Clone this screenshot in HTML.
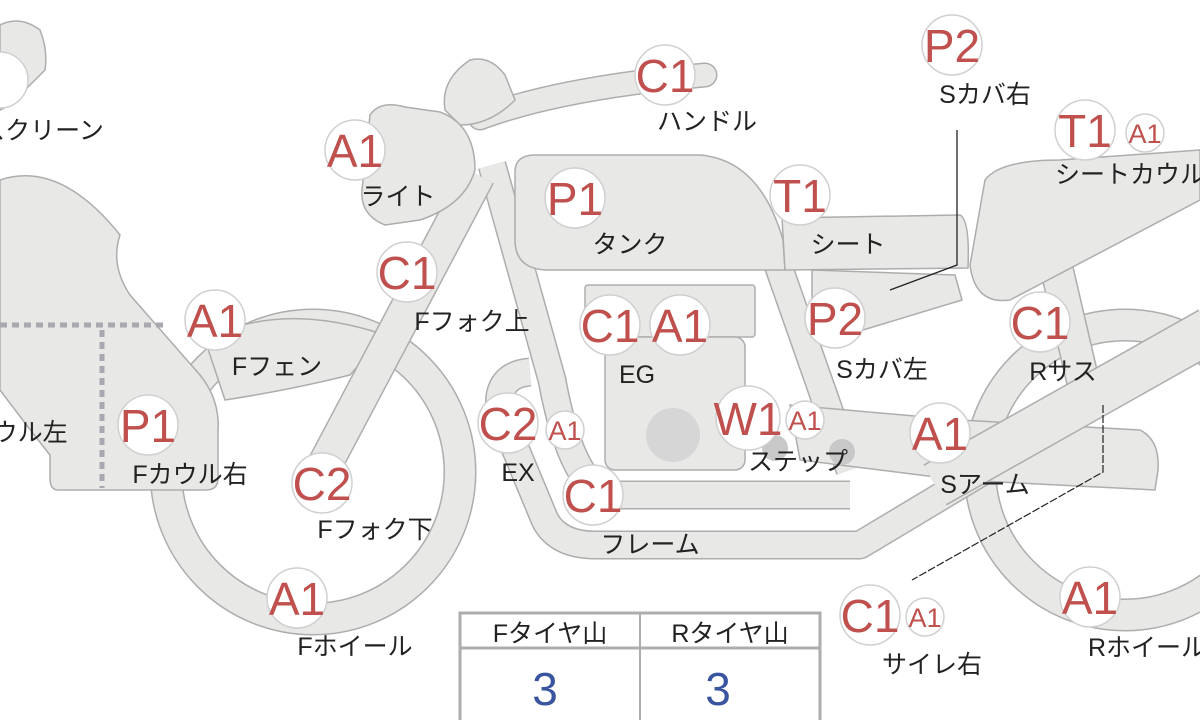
<!DOCTYPE html>
<html><head><meta charset="utf-8"><style>
html,body{margin:0;padding:0;background:#fff;width:1200px;height:720px;overflow:hidden}
svg{display:block}
.s{fill:#e8e8e6;stroke:#adadad;stroke-width:1.5}
.bo{fill:none;stroke:#adadad}
.bi{fill:none;stroke:#e8e8e6}
.b{fill:#fff;stroke:#d0d0d0;stroke-width:1.5}
.r{fill:#c0504d;font-family:"Liberation Sans",sans-serif;text-anchor:middle}
.t{fill:#222;font-family:"Liberation Sans","Noto Sans CJK JP",sans-serif;font-size:25px;text-anchor:middle}
</style></head><body>
<svg width="1200" height="720" viewBox="0 0 1200 720" xmlns="http://www.w3.org/2000/svg">
<circle cx="1125" cy="470" r="145" fill="none" stroke="#adadad" stroke-width="33"/>
<circle cx="1125" cy="470" r="145" fill="none" stroke="#e8e8e6" stroke-width="30"/>
<circle cx="313" cy="472" r="147" fill="none" stroke="#adadad" stroke-width="33"/>
<circle cx="313" cy="472" r="147" fill="none" stroke="#e8e8e6" stroke-width="30"/>
<path class="s" d="M0,25 Q20,15 40,30 Q48,50 45,70 L10,105 L0,110 Z"/>
<path class="s" d="M0,180 Q60,160 120,235 Q110,265 130,295 L200,375 Q220,400 218,430 L218,478 Q218,490 206,490 L58,490 Q50,490 50,478 L50,455 Q30,430 0,390 Z"/>
<path class="s" d="M205,340 Q280,300 385,335 L350,375 Q290,390 225,400 Z"/>
<line x1="1050" y1="240" x2="1085" y2="390" stroke="#adadad" stroke-width="34"/>
<line x1="1050" y1="240" x2="1085" y2="390" stroke="#e8e8e6" stroke-width="31"/>
<path d="M530,372 Q495,375 500,412 L545,520 Q558,545 595,545 L860,545 L1210,335" class="bo" stroke-width="29" stroke-linejoin="round"/>
<path d="M530,372 Q495,375 500,412 L545,520 Q558,545 595,545 L860,545 L1210,335" class="bi" stroke-width="26" stroke-linejoin="round"/>
<path d="M492,165 L552,380 Q570,478 605,495 L850,495" class="bo" stroke-width="29" stroke-linejoin="round"/>
<path d="M492,165 L552,380 Q570,478 605,495 L850,495" class="bi" stroke-width="26" stroke-linejoin="round"/>
<line x1="778" y1="265" x2="850" y2="470" stroke="#adadad" stroke-width="29"/>
<line x1="778" y1="265" x2="850" y2="470" stroke="#e8e8e6" stroke-width="26"/>
<path class="s" d="M790,405 L960,420 L1140,430 Q1160,440 1158,470 L1155,490 L960,480 L800,460 Z"/>
<line x1="935" y1="485" x2="1210" y2="330" stroke="#adadad" stroke-width="47"/>
<line x1="935" y1="485" x2="1210" y2="330" stroke="#e8e8e6" stroke-width="44"/>
<line x1="322" y1="470" x2="478" y2="175" stroke="#adadad" stroke-width="36"/>
<line x1="322" y1="470" x2="478" y2="175" stroke="#e8e8e6" stroke-width="33"/>
<path d="M480,118 Q560,88 705,75" class="bo" stroke-width="25" stroke-linecap="round"/>
<path d="M480,118 Q560,88 705,75" class="bi" stroke-width="22" stroke-linecap="round"/>
<path class="s" d="M445,110 Q440,80 470,60 Q490,55 505,75 L515,100 Q490,125 460,125 Z"/>
<path class="s" d="M370,115 Q380,100 405,107 L440,112 Q475,125 475,170 Q465,205 420,220 L385,225 Q360,215 362,190 Z"/>
<path class="s" d="M515,172 Q515,155 535,155 L700,155 Q760,160 783,240 L785,270 L545,270 Q515,268 515,240 Z"/>
<path class="s" d="M782,218 L960,215 Q970,220 968,268 L785,270 Z"/>
<path class="s" d="M812,270 L955,275 L962,300 L830,340 L812,305 Z"/>
<path class="s" d="M985,180 Q1000,160 1060,160 L1200,150 L1200,200 L1010,300 Q975,305 970,265 Z"/>
<rect class="s" x="585" y="285" width="170" height="52" rx="3"/>
<rect class="s" x="605" y="337" width="140" height="133" rx="10"/>
<circle cx="673" cy="435" r="27" fill="#d6d6d6"/>
<circle cx="775" cy="448" r="13" fill="#c8c8c8"/>
<circle cx="842" cy="452" r="13" fill="#c8c8c8"/>
<path d="M0,325 L165,325 M102,330 L102,488" stroke="#a8a8b0" stroke-width="5" stroke-dasharray="7,5" fill="none"/>
<path d="M957,130 L957,265 L890,290" stroke="#222" stroke-width="1.3" fill="none"/>
<path d="M1103,405 L1103,472 L912,580" stroke="#222" stroke-width="1.2" stroke-dasharray="8,2" fill="none"/>
<rect x="460" y="613" width="360" height="110" fill="#fff" stroke="#adadad" stroke-width="3"/>
<line x1="460" y1="648" x2="820" y2="648" stroke="#adadad" stroke-width="3"/>
<line x1="640" y1="613" x2="640" y2="720" stroke="#adadad" stroke-width="2"/>
<text class="t" x="550" y="642">Fタイヤ山</text>
<text class="t" x="730" y="642">Rタイヤ山</text>
<text x="545" y="705" font-family="Liberation Sans,sans-serif" font-size="46" fill="#3a55a0" text-anchor="middle">3</text>
<text x="718" y="705" font-family="Liberation Sans,sans-serif" font-size="46" fill="#3a55a0" text-anchor="middle">3</text>

<g font-size="46">
<circle class="b" cx="0" cy="80" r="28"/>
<circle class="b" cx="355" cy="150" r="30"/><text class="r" x="355" y="167">A1</text>
<circle class="b" cx="665" cy="75" r="30"/><text class="r" x="665" y="92">C1</text>
<circle class="b" cx="952" cy="45" r="30"/><text class="r" x="952" y="62">P2</text>
<circle class="b" cx="1085" cy="130" r="30"/><text class="r" x="1085" y="147">T1</text>
<circle class="b" cx="575" cy="198" r="30"/><text class="r" x="575" y="215">P1</text>
<circle class="b" cx="800" cy="195" r="30"/><text class="r" x="800" y="212">T1</text>
<circle class="b" cx="407" cy="272" r="30"/><text class="r" x="407" y="289">C1</text>
<circle class="b" cx="215" cy="320" r="30"/><text class="r" x="215" y="337">A1</text>
<circle class="b" cx="610" cy="325" r="30"/><text class="r" x="610" y="342">C1</text>
<circle class="b" cx="680" cy="325" r="30"/><text class="r" x="680" y="342">A1</text>
<circle class="b" cx="835" cy="318" r="30"/><text class="r" x="835" y="335">P2</text>
<circle class="b" cx="1040" cy="322" r="30"/><text class="r" x="1040" y="339">C1</text>
<circle class="b" cx="148" cy="425" r="30"/><text class="r" x="148" y="442">P1</text>
<circle class="b" cx="322" cy="483" r="30"/><text class="r" x="322" y="500">C2</text>
<circle class="b" cx="508" cy="423" r="30"/><text class="r" x="508" y="440">C2</text>
<circle class="b" cx="748" cy="418" r="32"/><text class="r" x="748" y="435">W1</text>
<circle class="b" cx="940" cy="433" r="30"/><text class="r" x="940" y="450">A1</text>
<circle class="b" cx="593" cy="495" r="30"/><text class="r" x="593" y="512">C1</text>
<circle class="b" cx="297" cy="598" r="30"/><text class="r" x="297" y="615">A1</text>
<circle class="b" cx="870" cy="615" r="30"/><text class="r" x="870" y="632">C1</text>
<circle class="b" cx="1090" cy="597" r="30"/><text class="r" x="1090" y="614">A1</text>
</g>
<g font-size="27">
<circle class="b" cx="1145" cy="133" r="19"/><text class="r" x="1145" y="143">A1</text>
<circle class="b" cx="565" cy="430" r="19"/><text class="r" x="565" y="440">A1</text>
<circle class="b" cx="805" cy="420" r="19"/><text class="r" x="805" y="430">A1</text>
<circle class="b" cx="925" cy="617" r="19"/><text class="r" x="925" y="627">A1</text>
</g>
<text class="t" x="42" y="139">スクリーン</text>
<text class="t" x="398" y="205">ライト</text>
<text class="t" x="707" y="130">ハンドル</text>
<text class="t" x="985" y="103">Sカバ右</text>
<text class="t" x="1055" y="183" style="text-anchor:start">シートカウル</text>
<text class="t" x="630" y="253">タンク</text>
<text class="t" x="848" y="253">シート</text>
<text class="t" x="472" y="330">Fフォク上</text>
<text class="t" x="277" y="375">Fフェン</text>
<text class="t" x="637" y="383">EG</text>
<text class="t" x="882" y="378">Sカバ左</text>
<text class="t" x="1063" y="380">Rサス</text>
<text class="t" x="10" y="441">Fカウル左</text>
<text class="t" x="190" y="483">Fカウル右</text>
<text class="t" x="375" y="538">Fフォク下</text>
<text class="t" x="518" y="481">EX</text>
<text class="t" x="798" y="470">ステップ</text>
<text class="t" x="985" y="493">Sアーム</text>
<text class="t" x="650" y="553">フレーム</text>
<text class="t" x="355" y="655">Fホイール</text>
<text class="t" x="932" y="673">サイレ右</text>
<text class="t" x="1088" y="656" style="text-anchor:start">Rホイール</text>
</svg>
</body></html>
